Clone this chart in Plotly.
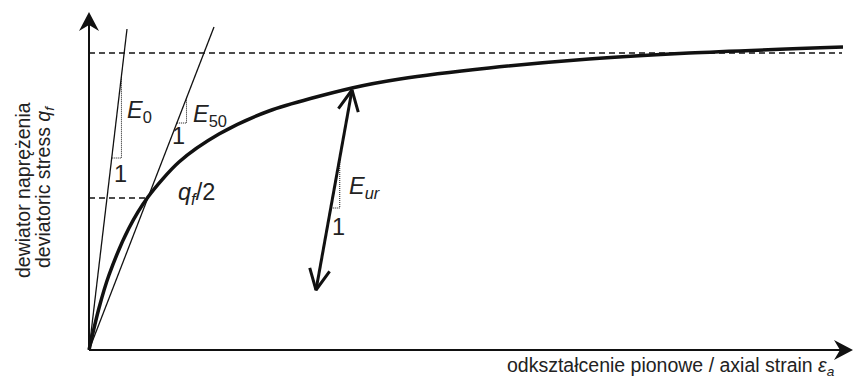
import numpy as np
import plotly.graph_objects as go

# schematic hyperbolic stress-strain curve (units = screen px from the origin)
strain = [0, 10, 20, 40, 59, 90, 130, 180, 263, 311, 400, 500, 600, 754]
stress = [0, 42, 75, 122, 153, 188, 216, 239, 262, 271, 282, 291, 297, 303]

q_f = 297          # failure level (upper dashed line)
q_half = 152       # q_f/2 point on the curve
x_half = 59

E0_end = (38, 321)
E50_end = (125, 323)
Eur_top = (263, 260)
Eur_bot = (227, 60)

x_max, y_max = 764, 338

INK = "#111111"
FONT = "Liberation Sans, Arial, sans-serif"

fig = go.Figure()


def seg(x, y, width=1.3, dash="solid", color=INK):
    fig.add_trace(go.Scatter(x=x, y=y, mode="lines", hoverinfo="skip",
                             line=dict(color=color, width=width, dash=dash)))


# dashed helper lines
seg([0, 753], [q_f, q_f], width=1.3, dash="6px,4px")
seg([0, x_half], [q_half, q_half], width=1.3, dash="6px,4px")

# tangent / secant lines
seg([0, E0_end[0]], [0, E0_end[1]], width=1.3)
seg([0, E50_end[0]], [0, E50_end[1]], width=1.3)

# main curve
fig.add_trace(go.Scatter(x=strain, y=stress, mode="lines", hoverinfo="skip",
                         line=dict(color=INK, width=3.5, shape="spline", smoothing=0.8)))


# slope triangles (dotted)
def tri(p0, p1, y_top, y_bot):
    def xat(y):
        return p0[0] + (p1[0] - p0[0]) * (y - p0[1]) / (p1[1] - p0[1])
    xt = xat(y_top)
    xb = xat(y_bot)
    seg([xb, xt, xt], [y_bot, y_bot, y_top], width=1, dash="1px,1px")


tri((0, 0), E0_end, 350 - 76, 350 - 158)
tri((0, 0), E50_end, 350 - 98, 350 - 123)
tri(Eur_bot, Eur_top, 350 - 158, 350 - 208)

# unloading/reloading double arrow
seg([Eur_bot[0], Eur_top[0]], [Eur_bot[1], Eur_top[1]], width=3)


def chevron(tip, back, length=23, ang=26):
    d = np.array(back, float) - np.array(tip, float)
    d /= np.linalg.norm(d)
    a = np.radians(ang)
    out = []
    for s in (1, -1):
        c, sn = np.cos(s * a), np.sin(s * a)
        r = np.array([d[0] * c - d[1] * sn, d[0] * sn + d[1] * c])
        out.append(np.array(tip) + r * length)
    seg([out[0][0], tip[0], out[1][0]], [out[0][1], tip[1], out[1][1]], width=3)


chevron(Eur_top, Eur_bot)
chevron(Eur_bot, Eur_top)

# axes with filled arrowheads
seg([0, x_max - 6], [0, 0], width=2)
seg([0, 0], [0, y_max - 6], width=2)
L, W, N = 19, 10, 6
fig.add_shape(type="path", xref="x", yref="y", line=dict(width=0), fillcolor=INK,
              path=f"M 0,{y_max} L {-W},{y_max - L} L 0,{y_max - L + N} L {W},{y_max - L} Z")
fig.add_shape(type="path", xref="x", yref="y", line=dict(width=0), fillcolor=INK,
              path=f"M {x_max},0 L {x_max - L},{W} L {x_max - L + N},0 L {x_max - L},{-W} Z")

# labels
big = dict(family=FONT, size=23.5, color="#222222")
small = dict(family=FONT, size=19.5, color="#222222")


def label(x, y, text, font=big, anchor="left", angle=0):
    fig.add_annotation(x=x, y=y, text=text, showarrow=False,
                       xanchor=anchor, yanchor="middle", font=font, textangle=angle)


label(125 - 89, 350 - 111, "<i>E</i><sub>0</sub>")
label(120 - 89, 350 - 174, "1", anchor="center")
label(191 - 89, 350 - 115, "<i>E</i><sub>50</sub>")
label(178 - 89, 350 - 136, "1", anchor="center")
label(176 - 89, 350 - 193, "<i>q<sub>f</sub></i>/2")
label(347 - 89, 350 - 187, "<i>E<sub>ur</sub></i>")
label(338 - 89, 350 - 227, "1", anchor="center")

label(837 - 89, 350 - 366, "odkształcenie pionowe / axial strain <i>ε<sub>a</sub></i>",
      font=small, anchor="right")
label(23 - 89, 350 - 190, "dewiator naprężenia", font=small, anchor="center", angle=-90)
label(44 - 89, 350 - 187, "deviatoric stress <i>q<sub>f</sub></i>", font=small,
      anchor="center", angle=-90)

# whole page is the plot area: 1 data unit = 1 px, origin at (89, 350)
fig.update_xaxes(range=[-89, 765], visible=False, fixedrange=True)
fig.update_yaxes(range=[-29, 350], visible=False, fixedrange=True)
fig.update_layout(width=854, height=379, showlegend=False,
                  margin=dict(l=0, r=0, t=0, b=0),
                  paper_bgcolor="white", plot_bgcolor="white")

fig.write_html("out.html", config={"displayModeBar": False},
               post_script="document.body.style.margin='0px';")
